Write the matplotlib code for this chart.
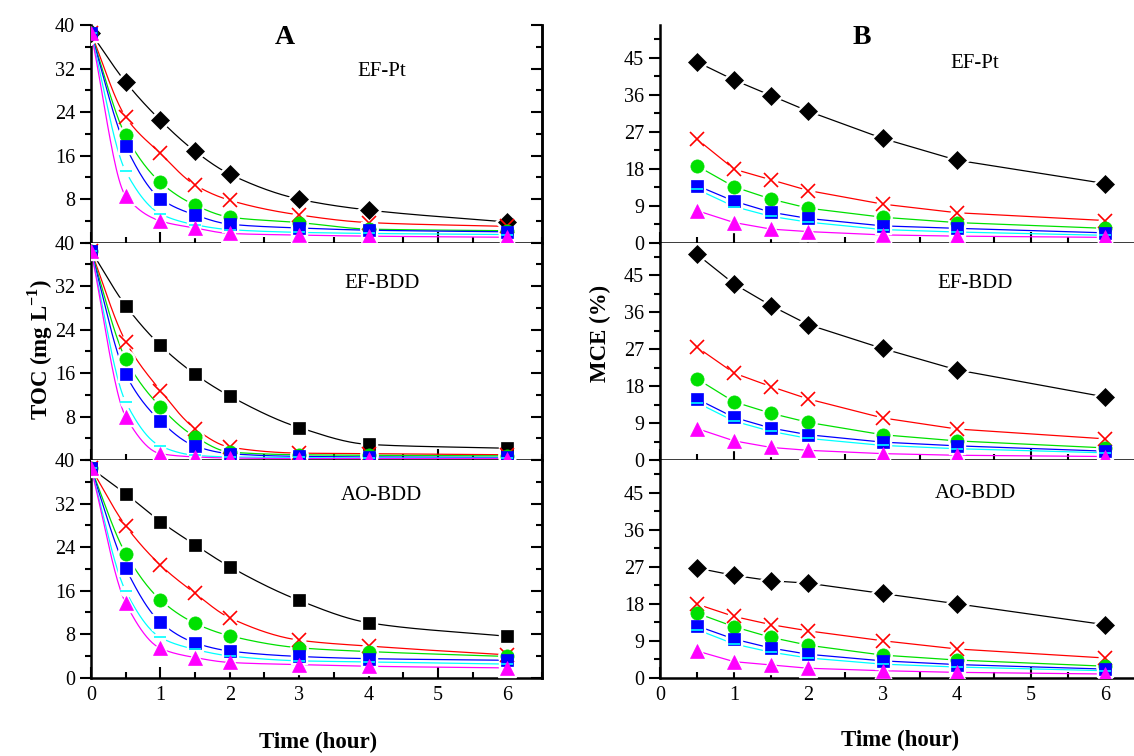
import numpy as np
import matplotlib
matplotlib.use("Agg")
import matplotlib.pyplot as plt
from matplotlib.ticker import MultipleLocator, NullFormatter, FixedLocator

plt.rcParams['font.family'] = ['Liberation Serif', 'DejaVu Serif']
plt.rcParams['mathtext.fontset'] = 'custom'
plt.rcParams['mathtext.rm'] = 'Liberation Serif'
plt.rcParams['mathtext.bf'] = 'Liberation Serif:bold'

# ---------------- data ----------------
time_toc = [0, 0.5, 1, 1.5, 2, 3, 4, 6]
time_mce = [0.5, 1, 1.5, 2, 3, 4, 6]
panel_names = ["EF-Pt", "EF-BDD", "AO-BDD"]

# series order: black, red, green, blue, cyan, magenta
toc_ef_pt = [
    [38.5, 29.5, 22.5, 16.8, 12.6, 8.0, 6.0, 3.8],
    [38.5, 23.1, 16.4, 10.6, 7.8, 5.1, 3.7, 3.0],
    [38.5, 19.7, 11.1, 6.9, 4.7, 3.7, 2.5, 2.2],
    [38.5, 17.7, 8.1, 5.1, 3.4, 2.7, 2.3, 2.0],
    [38.5, 13.1, 5.3, 3.3, 2.4, 1.9, 1.7, 1.5],
    [38.5, 8.6, 4.0, 2.7, 1.7, 1.4, 1.2, 1.0],
]
toc_ef_bdd = [
    [38.5, 28.4, 21.1, 15.8, 11.8, 6.0, 2.9, 2.2],
    [38.5, 21.8, 12.8, 5.8, 2.4, 1.3, 1.2, 1.0],
    [38.5, 18.6, 9.8, 4.3, 1.5, 1.0, 0.9, 0.8],
    [38.5, 15.8, 7.2, 2.6, 1.2, 0.7, 0.6, 0.5],
    [38.5, 10.7, 2.6, 0.9, 0.6, 0.5, 0.4, 0.4],
    [38.5, 8.0, 1.2, 0.6, 0.4, 0.3, 0.3, 0.3],
]
toc_ao_bdd = [
    [38.5, 33.8, 28.7, 24.4, 20.4, 14.2, 10.1, 7.6],
    [38.5, 27.9, 20.7, 15.5, 11.0, 6.9, 5.8, 4.2],
    [38.5, 22.8, 14.3, 10.0, 7.7, 5.5, 4.8, 3.9],
    [38.5, 20.1, 10.2, 6.4, 4.9, 3.9, 3.5, 3.2],
    [38.5, 15.9, 7.4, 5.2, 4.0, 3.1, 2.9, 2.5],
    [38.5, 13.7, 5.4, 3.7, 2.8, 2.4, 2.1, 1.8],
]
mce_ef_pt = [
    [44.0, 39.6, 35.8, 32.0, 25.4, 20.1, 14.4],
    [25.2, 17.9, 15.3, 12.7, 9.4, 7.3, 5.4],
    [18.7, 13.6, 10.6, 8.4, 6.2, 4.9, 3.5],
    [13.9, 10.1, 7.4, 5.9, 4.1, 3.5, 2.4],
    [13.0, 8.8, 6.4, 5.0, 3.2, 2.6, 1.8],
    [7.8, 4.9, 3.3, 2.7, 1.9, 1.6, 1.3],
]
mce_ef_bdd = [
    [50.1, 42.9, 37.6, 33.0, 27.2, 22.0, 15.4],
    [27.5, 21.2, 17.9, 14.9, 10.3, 7.6, 5.2],
    [19.8, 14.2, 11.4, 9.2, 6.2, 4.7, 3.0],
    [14.9, 10.4, 7.8, 6.2, 4.4, 3.5, 2.2],
    [14.0, 9.5, 7.0, 5.3, 3.6, 2.8, 1.8],
    [7.7, 4.7, 3.1, 2.4, 1.6, 1.2, 0.9],
]
mce_ao_bdd = [
    [26.7, 24.9, 23.6, 23.0, 20.5, 18.0, 12.9],
    [17.9, 14.9, 12.9, 11.4, 9.0, 7.0, 4.8],
    [15.7, 12.4, 9.8, 7.9, 5.5, 4.3, 2.8],
    [12.6, 9.4, 7.2, 5.7, 4.1, 3.2, 2.1],
    [11.7, 8.2, 6.2, 4.8, 3.3, 2.6, 1.7],
    [6.5, 3.9, 3.1, 2.3, 1.7, 1.3, 0.9],
]
toc_panels = [toc_ef_pt, toc_ef_bdd, toc_ao_bdd]
mce_panels = [mce_ef_pt, mce_ef_bdd, mce_ao_bdd]

colors = ['black', '#ff0000', '#00e000', '#0000ff', '#00ffff', '#ff00ff']
markers = ['D', 'x', 'o', 's', '_', '^']
msizes = [9.5, 10, 9.5, 8.5, 9, 10]


def pchip(x, y, xs):
    x = np.asarray(x, float); y = np.asarray(y, float)
    h = np.diff(x); d = np.diff(y) / h
    m = np.zeros_like(y)
    for k in range(1, len(x) - 1):
        if d[k - 1] * d[k] <= 0:
            m[k] = 0
        else:
            w1 = 2 * h[k] + h[k - 1]; w2 = h[k] + 2 * h[k - 1]
            m[k] = (w1 + w2) / (w1 / d[k - 1] + w2 / d[k])
    m[0] = d[0]; m[-1] = d[-1]
    out = np.empty_like(xs)
    idx = np.clip(np.searchsorted(x, xs) - 1, 0, len(x) - 2)
    for i, xv in enumerate(xs):
        k = idx[i]; t = (xv - x[k]) / h[k]
        h00 = 2 * t**3 - 3 * t**2 + 1; h10 = t**3 - 2 * t**2 + t
        h01 = -2 * t**3 + 3 * t**2; h11 = t**3 - t**2
        out[i] = h00 * y[k] + h10 * h[k] * m[k] + h01 * y[k + 1] + h11 * h[k] * m[k + 1]
    return out


fig = plt.figure(figsize=(11.34, 7.56), dpi=100)
W, H = 1134, 756
tops = [25, 242.5, 460]
ph = 217.7
tick_fs = 14.5


def draw(ax, xs, series, smooth, black_marker):
    lw = 0.9
    sizes = list(msizes)
    if black_marker == 's':
        sizes[0] = 8.5
    for i, ys in enumerate(series):
        if smooth:
            xx = np.linspace(xs[0], xs[-1], 300)
            ax.plot(xx, pchip(xs, ys, xx), color=colors[i], lw=lw, zorder=2)
        else:
            ax.plot(xs, ys, color=colors[i], lw=lw, zorder=2)
    for i, ys in enumerate(series):
        mk = markers[i] if i > 0 else black_marker
        if mk in ('x', '_'):
            ax.plot(xs, ys, ls='none', marker='o', ms=sizes[i] * 0.9, mfc='white', mec='white', zorder=3)
        else:
            ax.plot(xs, ys, ls='none', marker=mk, ms=sizes[i] + 3, mfc='white', mec='white', zorder=3)
    for i, ys in enumerate(series):
        mk = markers[i] if i > 0 else black_marker
        if mk in ('x', '_'):
            ax.plot(xs, ys, ls='none', marker=mk, ms=sizes[i], mec=colors[i], mew=1.2, zorder=4 + i)
        else:
            ax.plot(xs, ys, ls='none', marker=mk, ms=sizes[i], mfc=colors[i], mec=colors[i], mew=0.5, zorder=4 + i)


A_label_y = [0.785, 0.81, 0.835]
B_label_y = [0.825, 0.81, 0.845]

for p in range(3):
    bottom = (H - (tops[p] + ph)) / H
    # ---- panel A ----
    axA = fig.add_axes([91 / W, bottom, (542 - 91) / W, ph / H])
    draw(axA, time_toc, toc_panels[p], True, 'D' if p == 0 else 's')
    axA.set_xlim(0, 6.5)
    axA.set_ylim(0, 40)
    axA.yaxis.set_major_locator(FixedLocator([8, 16, 24, 32, 40] if p < 2 else [0, 8, 16, 24, 32, 40]))
    axA.yaxis.set_minor_locator(MultipleLocator(4))
    axA.xaxis.set_major_locator(MultipleLocator(1))
    axA.xaxis.set_minor_locator(MultipleLocator(0.5))
    axA.spines['top'].set_visible(False)
    for s in ['left', 'right', 'bottom']:
        axA.spines[s].set_linewidth(1.8)
    axA.tick_params(axis='y', which='both', direction='out', left=True, right=False, labelsize=tick_fs, width=1.5)
    axA.tick_params(axis='y', which='major', length=8)
    axA.tick_params(axis='y', which='minor', length=4)
    axA.tick_params(axis='x', which='both', direction='in', labelsize=tick_fs, width=1.5, pad=6)
    axA.tick_params(axis='x', which='major', length=8)
    axA.tick_params(axis='x', which='minor', length=4)
    if p < 2:
        axA.xaxis.set_major_formatter(NullFormatter())
    # right-side inward ticks
    tw = axA.twinx()
    tw.set_ylim(0, 40)
    tw.yaxis.set_major_locator(MultipleLocator(8))
    tw.yaxis.set_minor_locator(MultipleLocator(4))
    tw.yaxis.set_major_formatter(NullFormatter())
    tw.tick_params(axis='y', which='both', direction='in', width=1.5)
    tw.tick_params(axis='y', which='major', length=8)
    tw.tick_params(axis='y', which='minor', length=4)
    for s in ['top', 'left', 'bottom']:
        tw.spines[s].set_visible(False)
    tw.spines['right'].set_linewidth(1.8)
    axA.text(0.645, A_label_y[p], panel_names[p], transform=axA.transAxes, ha='center', va='center', fontsize=15)

    # ---- panel B ----
    axB = fig.add_axes([660 / W, bottom, (W - 660) / W, ph / H])
    draw(axB, time_mce, mce_panels[p], False, 'D')
    axB.set_xlim(0, 6.39)
    axB.set_ylim(0, 53)
    axB.yaxis.set_major_locator(MultipleLocator(9))
    axB.yaxis.set_minor_locator(MultipleLocator(4.5))
    axB.xaxis.set_major_locator(MultipleLocator(1))
    axB.xaxis.set_minor_locator(MultipleLocator(0.5))
    axB.spines['top'].set_visible(False)
    axB.spines['right'].set_visible(False)
    for s in ['left', 'bottom']:
        axB.spines[s].set_linewidth(1.8)
    axB.tick_params(axis='y', which='both', direction='out', labelsize=tick_fs, width=1.5)
    axB.tick_params(axis='y', which='major', length=8)
    axB.tick_params(axis='y', which='minor', length=4)
    axB.tick_params(axis='x', which='both', direction='in', labelsize=tick_fs, width=1.5, pad=6)
    axB.tick_params(axis='x', which='major', length=8)
    axB.tick_params(axis='x', which='minor', length=4)
    if p < 2:
        axB.xaxis.set_major_formatter(NullFormatter())
    axB.text(0.665, B_label_y[p], panel_names[p], transform=axB.transAxes, ha='center', va='center', fontsize=15)

fig.text(285 / W, 1 - 38 / H, 'A', ha='center', va='center', fontsize=20, fontweight='bold')
fig.text(862 / W, 1 - 38 / H, 'B', ha='center', va='center', fontsize=20, fontweight='bold')
fig.text(40 / W, 1 - 350 / H, r'TOC (mg L$^{\mathbf{-1}}$)', rotation=90, ha='center', va='center',
         fontsize=16.5, fontweight='bold')
fig.text(600 / W, 1 - 333 / H, 'MCE (%)', rotation=90, ha='center', va='center', fontsize=16.5, fontweight='bold')
fig.text(318 / W, 1 - 742 / H, 'Time (hour)', ha='center', va='center', fontsize=16.5, fontweight='bold')
fig.text(900 / W, 1 - 740 / H, 'Time (hour)', ha='center', va='center', fontsize=16.5, fontweight='bold')

fig.savefig('out.png', dpi=100)
